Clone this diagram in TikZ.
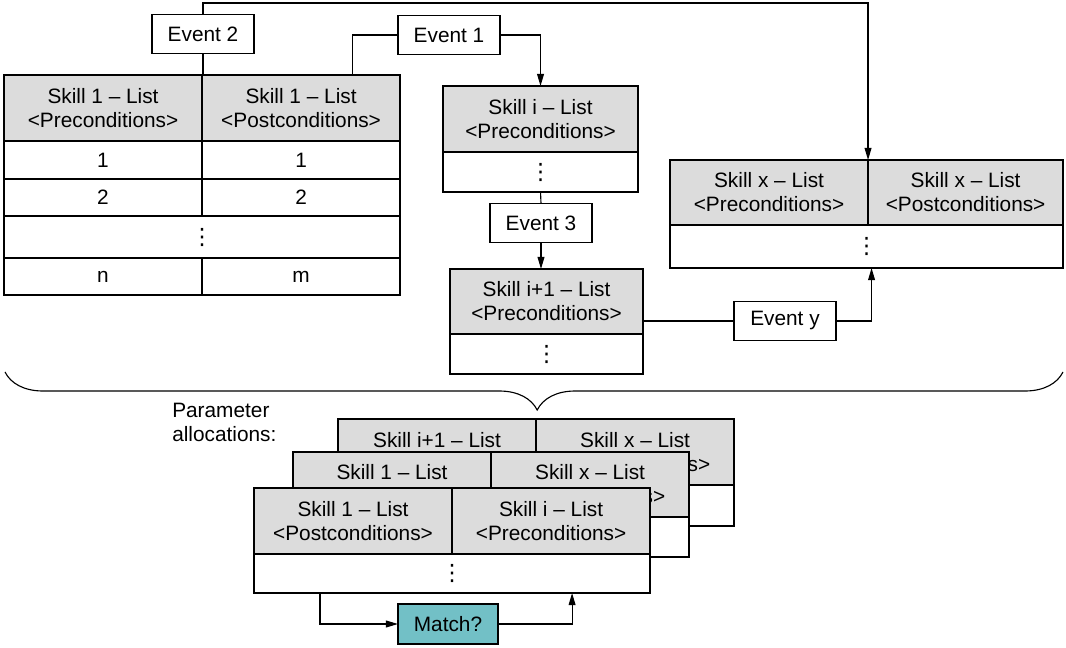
\documentclass[tikz,border=0pt]{standalone}
\usepackage{fontspec}
\setmainfont{Liberation Sans}
\newfontfamily\dotsfont{DejaVu Sans}
\usetikzlibrary{positioning,arrows.meta,decorations.pathreplacing}
\definecolor{headgray}{RGB}{220,220,220}
\definecolor{matchteal}{RGB}{114,192,198}
\newcommand{\VDOTS}{{\dotsfont\fontsize{16}{16}\selectfont ⋮}}
\tikzset{
  headcell/.style={rectangle,draw,line width=1.2pt,outer sep=0pt,inner sep=0pt,align=center,fill=headgray,minimum width=4.95cm,minimum height=1.65cm},
  rowcell/.style={rectangle,draw,line width=1.2pt,outer sep=0pt,inner sep=0pt,align=center,fill=white,minimum width=4.95cm,minimum height=0.95cm},
  eventbox/.style={rectangle,draw,line width=0.8pt,outer sep=0pt,inner sep=0pt,fill=white,minimum width=2.55cm,minimum height=0.975cm},
  wire/.style={line width=0.8pt},
  wirearrow/.style={wire,-{Triangle[length=3mm,width=1.7mm]}}
}

\begin{document}
\begin{tikzpicture}[x=0.025cm,y=-0.025cm,font=\fontsize{14.8}{17}\selectfont]
  \useasboundingbox (0,0) rectangle (1066,648);

  % skill 1 list
  \node[headcell,anchor=north west] (s1pre) at (4,75) {Skill 1 – List\\<Preconditions>};
  \node[headcell,right=0pt of s1pre] (s1post) {Skill 1 – List\\<Postconditions>};
  \node[rowcell,below=0pt of s1pre] (s1a1) {1};
  \node[rowcell,below=0pt of s1post] (s1b1) {1};
  \node[rowcell,minimum height=0.925cm,below=0pt of s1a1] (s1a2) {2};
  \node[rowcell,minimum height=0.925cm,below=0pt of s1b1] (s1b2) {2};
  \node[rowcell,minimum width=9.9cm,minimum height=1.05cm,anchor=north west] (s1dots) at (s1a2.south west) {\VDOTS};
  \node[rowcell,minimum height=0.925cm,anchor=north west] (s1an) at (s1dots.south west) {n};
  \node[rowcell,minimum height=0.925cm,right=0pt of s1an] (s1bm) {m};

  % skill i, skill i+1, skill x
  \node[headcell,minimum width=4.875cm,anchor=north west] (sipre) at (443,86) {Skill i – List\\<Preconditions>};
  \node[rowcell,minimum width=4.875cm,minimum height=1.0cm,below=0pt of sipre] (sidots) {\VDOTS};
  \node[headcell,minimum width=4.825cm,minimum height=1.625cm,anchor=north west] (sjpre) at (450,269) {Skill i+1 – List\\<Preconditions>};
  \node[rowcell,minimum width=4.825cm,minimum height=1.0cm,below=0pt of sjpre] (sjdots) {\VDOTS};
  \node[headcell,minimum width=4.95cm,minimum height=1.625cm,anchor=north west] (sxpre) at (670,160) {Skill x – List\\<Preconditions>};
  \node[headcell,minimum width=4.875cm,minimum height=1.625cm,right=0pt of sxpre] (sxpost) {Skill x – List\\<Postconditions>};
  \node[rowcell,minimum width=9.825cm,minimum height=1.075cm,anchor=north west] (sxdots) at (sxpre.south west) {\VDOTS};

  % events
  \node[eventbox] (ev2) at (203,34) {Event 2};
  \node[eventbox] (ev1) at (449,35) {Event 1};
  \node[eventbox] (ev3) at (541,223) {Event 3};
  \node[eventbox] (evy) at (785,321) {Event y};

  \coordinate (ridge) at (203,3);
  \draw[wirearrow] (ev2.north) -- (ridge) -| (sxpre.north east);
  \draw[wire] (ev2.south) -- (ev2.south |- s1pre.north);
  \draw[wire] (ev1.west) -| ([xshift=1.275cm]s1post.north);
  \draw[wirearrow] (ev1.east) -| (sipre.north);
  \draw[wire] (sidots.south) -- (ev3.north);
  \draw[wirearrow] (ev3.south) -- (ev3.south |- sjpre.north);
  \draw[wire] (sjpre.east |- evy.west) -- (evy.west);
  \draw[wirearrow] (evy.east) -| ([xshift=0.125cm]sxdots.south);

  % brace over all lists
  \draw[wire,decorate,decoration={brace,amplitude=0.95cm,aspect=0.503,mirror}] (5,372) -- (1063,372);

  \node[anchor=north west,align=left,inner sep=0pt] (alloclbl) at (172,403) {Parameter\\allocations:};

  % parameter allocations, back to front
  \node[headcell,anchor=north west] (a3l) at (338,419) {Skill i+1 – List\\<Postconditions>};
  \node[headcell,right=0pt of a3l] (a3r) {Skill x – List\\<Preconditions>};
  \node[rowcell,minimum width=9.9cm,minimum height=1.025cm,anchor=north west] (a3body) at (a3l.south west) {};

  \node[headcell,minimum height=1.625cm,anchor=north west] (a2l) at (293,452) {Skill 1 – List\\<Postconditions>};
  \node[headcell,minimum height=1.625cm,right=0pt of a2l] (a2r) {Skill x – List\\<Preconditions>};
  \node[rowcell,minimum width=9.9cm,minimum height=1.0cm,anchor=north west] (a2body) at (a2l.south west) {};

  \node[headcell,anchor=north west] (a1l) at (254,488) {Skill 1 – List\\<Postconditions>};
  \node[headcell,right=0pt of a1l] (a1r) {Skill i – List\\<Preconditions>};
  \node[rowcell,minimum width=9.9cm,minimum height=0.975cm,anchor=north west] (a1body) at (a1l.south west) {\VDOTS};

  \node[eventbox,fill=matchteal,minimum width=2.5cm,minimum height=1.0cm] (match) at (448,624) {Match?};
  \draw[wirearrow] ([xshift=1.65cm]a1body.south west) |- (match.west);
  \draw[wirearrow] (match.east) -| ([xshift=7.95cm]a1body.south west);
\end{tikzpicture}
\end{document}
